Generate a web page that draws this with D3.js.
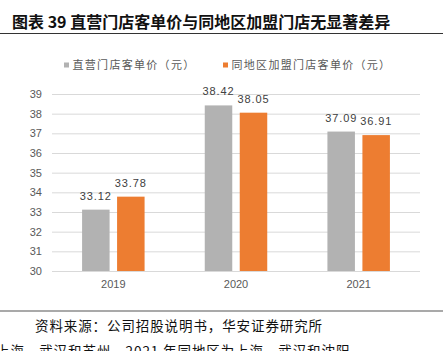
<!DOCTYPE html>
<html>
<head>
<meta charset="utf-8">
<script src="https://cdn.jsdelivr.net/npm/d3@7"></script>
<style>
  html, body { margin: 0; padding: 0; background: #fff; overflow: hidden; }
  svg { display: block; }
</style>
</head>
<body>
<div id="chart"></div>
<script>
// data
const years = ['2019', '2020', '2021'];
const seriesNames = ['直营门店客单价（元）', '同地区加盟门店客单价（元）'];
const directPrice = [33.12, 38.42, 37.09];
const franchisePrice = [33.78, 38.05, 36.91];
const yTicks = [30, 31, 32, 33, 34, 35, 36, 37, 38, 39];

const titleText = '图表 39 直营门店客单价与同地区加盟门店无显著差异';
const sourceText = '资料来源：公司招股说明书，华安证券研究所';
const noteText = '上海、武汉和苏州，2021 年同地区为上海、武汉和沈阳';

const COLORS = ['#b2b2b2', '#ed7d31'];
const W = 443, H = 351;
const PLOT = { left: 52, right: 420, top: 94, bottom: 271 };
const CJK = '"Noto Sans CJK SC", "Noto Sans", sans-serif';
const LATIN = '"Liberation Sans", Arial, sans-serif';

const svg = d3.select('#chart').append('svg')
  .attr('width', W).attr('height', H);

// title + rule
svg.append('text')
  .attr('x', 12).attr('y', 28)
  .attr('font-family', CJK).attr('font-weight', 'bold')
  .attr('font-size', 16).attr('fill', '#111')
  .text(titleText);
svg.append('line')
  .attr('x1', 0).attr('x2', W).attr('y1', 33.5).attr('y2', 33.5)
  .attr('stroke', '#333').attr('stroke-width', 1);

// legend
const legendX = [64, 223];
seriesNames.forEach((name, i) => {
  svg.append('rect')
    .attr('x', legendX[i]).attr('y', 62.5)
    .attr('width', 5).attr('height', 5)
    .attr('fill', COLORS[i]);
  svg.append('text')
    .attr('x', legendX[i] + 8.5).attr('y', 69)
    .attr('font-family', CJK).attr('font-size', 11)
    .attr('letter-spacing', 1.3)
    .attr('fill', '#595959')
    .text(name);
});

// scales
const x0 = d3.scaleBand().domain(years).range([PLOT.left, PLOT.right]).padding(0);
const x1 = d3.scaleBand().domain([0, 1]).range([0, x0.bandwidth()])
  .paddingInner(0.214).paddingOuter(0.86);
const y = d3.scaleLinear().domain([30, 39]).range([PLOT.bottom, PLOT.top]);

// gridlines
svg.append('g')
  .attr('transform', `translate(${PLOT.left},0)`)
  .call(d3.axisLeft(y).tickValues(yTicks).tickSize(-(PLOT.right - PLOT.left)).tickFormat(''))
  .call(g => g.select('.domain').remove())
  .selectAll('line').attr('stroke', '#d9d9d9').attr('stroke-width', 1);

// y axis labels
svg.append('g')
  .attr('transform', `translate(${PLOT.left - 4},0)`)
  .call(d3.axisLeft(y).tickValues(yTicks).tickSize(0).tickPadding(6))
  .call(g => g.select('.domain').remove())
  .selectAll('text')
    .attr('font-family', LATIN).attr('font-size', 11)
    .attr('fill', '#595959');

// bars
const seriesData = [directPrice, franchisePrice];
seriesData.forEach((vals, si) => {
  const g = svg.append('g');
  g.selectAll('rect')
    .data(vals)
    .join('rect')
      .attr('x', (d, i) => x0(years[i]) + x1(si))
      .attr('y', d => y(d))
      .attr('width', x1.bandwidth())
      .attr('height', d => y(30) - y(d))
      .attr('fill', COLORS[si]);
  g.selectAll('text')
    .data(vals)
    .join('text')
      .attr('x', (d, i) => x0(years[i]) + x1(si) + x1.bandwidth() / 2)
      .attr('y', d => y(d) - 10)
      .attr('text-anchor', 'middle')
      .attr('font-family', LATIN).attr('font-size', 11)
      .attr('letter-spacing', 0.9)
      .attr('fill', '#404040')
      .text(d => d.toFixed(2));
});

// x axis labels
svg.append('g')
  .attr('transform', `translate(0,${PLOT.bottom})`)
  .call(d3.axisBottom(x0).tickSize(0).tickPadding(9))
  .call(g => g.select('.domain').remove())
  .selectAll('text')
    .attr('font-family', LATIN).attr('font-size', 11)
    .attr('fill', '#595959');

// footer
svg.append('line')
  .attr('x1', 0).attr('x2', W).attr('y1', 311).attr('y2', 311)
  .attr('stroke', '#8c8c8c').attr('stroke-width', 1.5);
svg.append('text')
  .attr('x', 35).attr('y', 331)
  .attr('font-family', CJK).attr('font-size', 13.5)
  .attr('letter-spacing', 0.9)
  .attr('fill', '#111')
  .text(sourceText);
// second footnote line is cut by the bottom edge in the original too
svg.append('text')
  .attr('x', -4).attr('y', 356)
  .attr('font-family', CJK).attr('font-size', 13.5)
  .attr('letter-spacing', 0.9)
  .attr('fill', '#111')
  .text(noteText);
</script>
</body>
</html>
